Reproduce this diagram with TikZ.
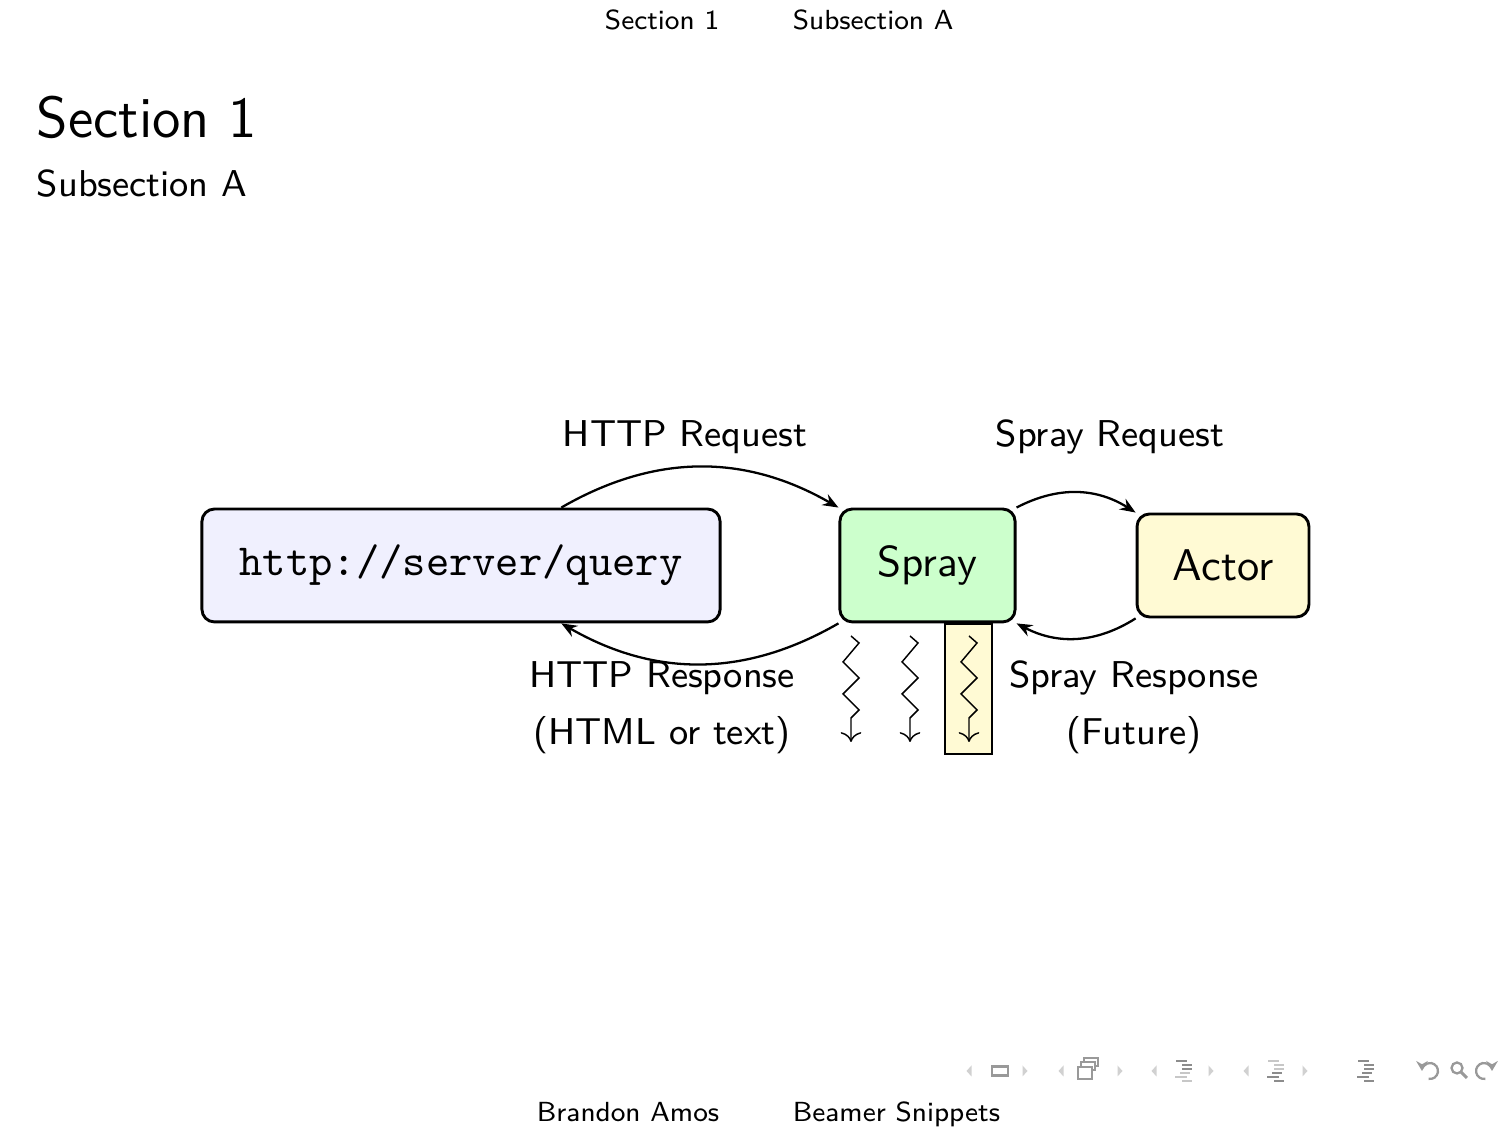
\documentclass[tikz,border=0pt]{standalone}
\usepackage{fontspec}
\usepackage{tikz}
\usetikzlibrary{arrows.meta}

\definecolor{urlfill}{RGB}{240,240,254}
\definecolor{sprayfill}{RGB}{204,255,204}
\definecolor{actorfill}{RGB}{255,250,212}

\tikzset{
  box/.style={draw, line width=0.7pt, rounded corners=3pt, inner sep=0pt},
  flow/.style={-{Stealth[length=3.8pt, width=3pt, inset=1.3pt]}, line width=0.55pt, bend left=30},
  lbl/.style={anchor=base, inner sep=0pt, font=\sffamily\fontsize{9}{11}\selectfont},
  bar/.style={inner sep=0pt, font=\sffamily\fontsize{6.65}{8}\selectfont},
  zig/.style={->, line width=0.35pt},
  navtri/.style={fill=black!18},
  navicon/.style={draw=black!40, line width=0.55pt},
}

\begin{document}
\begin{tikzpicture}[x=0.0846561mm, y=0.0846561mm, font=\sffamily]
\useasboundingbox [fill=white] (0,0) rectangle (1512,1134);

% head and foot lines
\node (hsec) [bar, anchor=base east] at (720,1104) {Section 1};
\node (hsub) [bar, anchor=base west] at (792,1104) {Subsection A};
\node (fauth) [bar, anchor=base east] at (720,12) {Brandon Amos};
\node (ftitle) [bar, anchor=base west] at (792,12) {Beamer Snippets};

\node (title) [anchor=base west, inner sep=0pt, font=\sffamily\fontsize{13.95}{16}\selectfont] at (36,996) {Section 1};
\node (subtitle) [anchor=base west, inner sep=0pt, font=\sffamily\fontsize{9}{11}\selectfont] at (36,937) {Subsection A};

% the boxes
\node (url) [box, fill=urlfill, minimum width=124.8pt, minimum height=27.2pt,
  font=\ttfamily\fontsize{10.7}{12}\selectfont] at (461,568.5) {http://server/query};
\node (spray) [box, fill=sprayfill, minimum width=42.2pt, minimum height=27.2pt,
  font=\sffamily\fontsize{10.4}{12}\selectfont] at (927.5,568.5) {Spray};
\node (actor) [box, fill=actorfill, minimum width=41.4pt, minimum height=24.8pt,
  font=\sffamily\fontsize{10.7}{12}\selectfont] at (1223,568.5) {Actor};

\draw [flow] (url.30) to (spray.north west);
\draw [flow] (spray.south west) to (url.-30);
\draw [flow] (spray.north east) to (actor.north west);
\draw [flow] (actor.south west) to (spray.south east);

\node (httpreq) [lbl] at (685,687) {HTTP Request};
\node (sprayreq) [lbl] at (1110,687) {Spray Request};
\node (httpresp) [lbl] at (662,446) {HTTP Response};
\node (httpresp2) [lbl] at (662,389) {(HTML or text)};
\node (sprayresp) [lbl] at (1134,446) {Spray Response};
\node (sprayresp2) [lbl] at (1134,389) {(Future)};

% threads
\node (future) [draw, fill=actorfill, line width=0.35pt, minimum width=11.3pt, minimum height=31.3pt, inner sep=0pt] at (968.5,445) {};
\foreach \x in {851,910,969}
  \draw [zig] (\x,498) -- ++(8,-7) -- ++(-16,-19) -- ++(16,-16) -- ++(-16,-16)
    -- ++(16,-16) -- ++(-8,-8) -- ++(0,-24);

% navigation symbols
\foreach \x in {969,1061,1154,1246}
  \fill [navtri] (\x-2.5,63) -- (\x+2.5,68.5) -- (\x+2.5,57.5) -- cycle;
\foreach \x in {1025,1120,1211,1305}
  \fill [navtri] (\x+2.5,63) -- (\x-2.5,68.5) -- (\x-2.5,57.5) -- cycle;
\draw [navicon] (992,58.5) rectangle (1008,67.5);
\draw [navicon, fill=white] (1084,68) rectangle (1098,76);
\draw [navicon, fill=white] (1081,64) rectangle (1095,72);
\draw [navicon, fill=white] (1078,55) rectangle (1092,67);
\foreach \lx/\ca/\cb in {1175/22/45, 1267/45/22, 1357/45/45}
  \foreach \n/\dx/\w/\m in {0/1/11/1, 1/7/10/0, 2/7/10/0, 3/5/10/1, 4/0/12/1, 5/7/10/1}
    \pgfmathsetmacro\cc{\m==1 ? (\n<1 ? \cb : \ca) : \cb}
    \draw [draw=black!\cc, line width=0.6pt] (\lx+\dx,73-4*\n) -- ++(\w,0);
\draw [navicon, -{Stealth[length=2.4pt, width=2.8pt]}] (1428.6,55.1) arc (-100:180:8);
\draw [navicon] (1457,66) circle (5.5);
\draw [navicon, line width=0.7pt] (1461,62) -- (1467,56);
\draw [navicon, -{Stealth[length=2.4pt, width=2.8pt]}] (1485.4,55.1) arc (-80:-360:8);
\end{tikzpicture}
\end{document}
